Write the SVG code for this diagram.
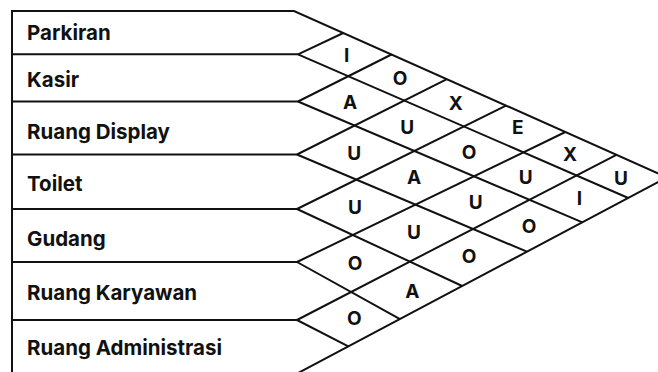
<svg xmlns="http://www.w3.org/2000/svg" width="658" height="372" viewBox="0 0 658 372">
  <style>
    .ln { fill: none; stroke: #111; stroke-width: 2; stroke-linejoin: miter; stroke-linecap: butt; }
    .lbl { font-family: Inter, "Liberation Sans", Arial, sans-serif; font-weight: 700; font-size: 20.5px; fill: #111; }
    .rel { font-family: Inter, "Liberation Sans", Arial, sans-serif; font-weight: 700; font-size: 19px; fill: #111; text-anchor: middle; }
  </style>
  <rect width="658" height="372" fill="#fff"/>

  <!-- activity rows: outer frame and row separators -->
  <g id="frame">
    <polyline class="ln" points="12,380 12,11 294,11 667.1,177.4"/>
    <polyline class="ln" points="12,373.6 297,373.6 667.1,177.4"/>
  </g>

  <g id="row-parkiran">
    <text class="lbl" x="27" y="40">Parkiran</text>
  </g>
  <g id="row-kasir">
    <line class="ln" x1="12" y1="54.3" x2="298" y2="54.3"/>
    <text class="lbl" x="27" y="87.3">Kasir</text>
  </g>
  <g id="row-ruang-display">
    <line class="ln" x1="12" y1="101.5" x2="298" y2="101.5"/>
    <text class="lbl" x="27" y="139.3">Ruang Display</text>
  </g>
  <g id="row-toilet">
    <line class="ln" x1="12" y1="154.5" x2="297" y2="154.5"/>
    <text class="lbl" x="27" y="190.5">Toilet</text>
  </g>
  <g id="row-gudang">
    <line class="ln" x1="12" y1="209" x2="297" y2="209"/>
    <text class="lbl" x="27" y="246">Gudang</text>
  </g>
  <g id="row-ruang-karyawan">
    <line class="ln" x1="12" y1="262" x2="297" y2="262"/>
    <text class="lbl" x="27" y="300">Ruang Karyawan</text>
  </g>
  <g id="row-ruang-administrasi">
    <line class="ln" x1="12" y1="320" x2="297" y2="320"/>
    <text class="lbl" x="27" y="355">Ruang Administrasi</text>
  </g>

  <!-- relationship grid: down-right and up-right diagonals -->
  <g id="connectors">
    <line class="ln" x1="298" y1="54.3" x2="628.3" y2="198"/>
    <line class="ln" x1="298" y1="101.5" x2="582.4" y2="222.3"/>
    <line class="ln" x1="297" y1="154.5" x2="526.9" y2="251.7"/>
    <line class="ln" x1="297" y1="209" x2="462.2" y2="286"/>
    <line class="ln" x1="297" y1="262" x2="400" y2="319.2"/>
    <line class="ln" x1="297" y1="320" x2="348.3" y2="346.4"/>

    <line class="ln" x1="298" y1="54.3" x2="343.3" y2="33"/>
    <line class="ln" x1="298" y1="101.5" x2="391.5" y2="54.5"/>
    <line class="ln" x1="297" y1="154.5" x2="446.9" y2="79.1"/>
    <line class="ln" x1="297" y1="209" x2="506" y2="105.6"/>
    <line class="ln" x1="297" y1="262" x2="565.4" y2="132"/>
    <line class="ln" x1="297" y1="320" x2="616.4" y2="154.8"/>
  </g>

  <!-- relationship codes, one per pair of rows -->
  <g id="cell-1-2"><text class="rel" x="346.7" y="62">I</text></g>
  <g id="cell-1-3"><text class="rel" x="400" y="85.3">O</text></g>
  <g id="cell-1-4"><text class="rel" x="455.7" y="109.7">X</text></g>
  <g id="cell-1-5"><text class="rel" x="517.7" y="134.3">E</text></g>
  <g id="cell-1-6"><text class="rel" x="570" y="161">X</text></g>
  <g id="cell-1-7"><text class="rel" x="621" y="185.3">U</text></g>
  <g id="cell-2-3"><text class="rel" x="350" y="108.7">A</text></g>
  <g id="cell-2-4"><text class="rel" x="407.3" y="133.7">U</text></g>
  <g id="cell-2-5"><text class="rel" x="469" y="158.7">O</text></g>
  <g id="cell-2-6"><text class="rel" x="525.7" y="184.3">U</text></g>
  <g id="cell-2-7"><text class="rel" x="579.3" y="205.3">I</text></g>
  <g id="cell-3-4"><text class="rel" x="354.3" y="159.7">U</text></g>
  <g id="cell-3-5"><text class="rel" x="414" y="183.7">A</text></g>
  <g id="cell-3-6"><text class="rel" x="475.7" y="208.7">U</text></g>
  <g id="cell-3-7"><text class="rel" x="529" y="233">O</text></g>
  <g id="cell-4-5"><text class="rel" x="355" y="214.3">U</text></g>
  <g id="cell-4-6"><text class="rel" x="414" y="238.7">U</text></g>
  <g id="cell-4-7"><text class="rel" x="469" y="262.7">O</text></g>
  <g id="cell-5-6"><text class="rel" x="355" y="270.3">O</text></g>
  <g id="cell-5-7"><text class="rel" x="412.3" y="297.7">A</text></g>
  <g id="cell-6-7"><text class="rel" x="354.3" y="325.3">O</text></g>
</svg>
